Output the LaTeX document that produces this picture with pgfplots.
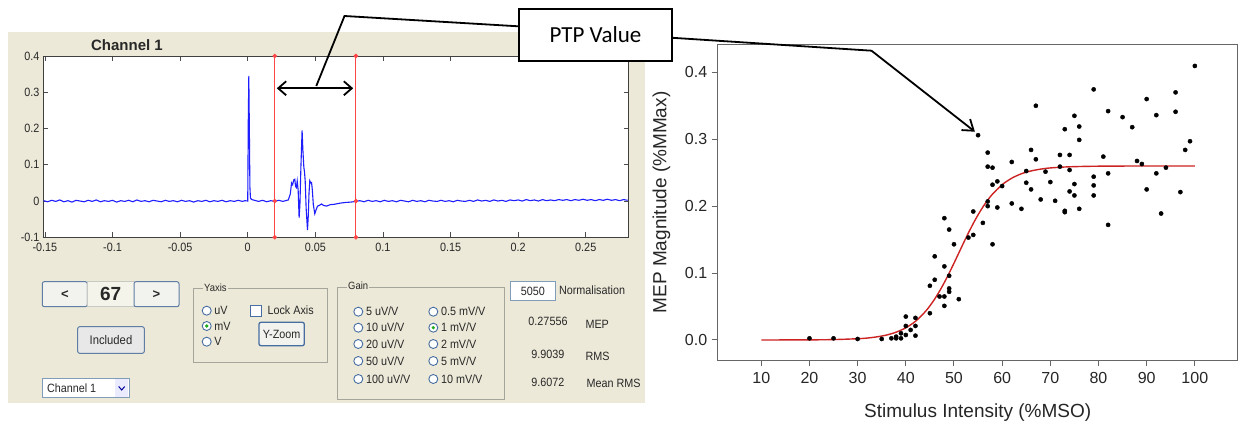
\documentclass[border=0pt]{standalone}
\usepackage{fontspec}
\setmainfont{Liberation Sans}
\newfontfamily\gui[FakeStretch=0.9]{Liberation Sans}
\newfontfamily\callout{Carlito}
\usepackage{pgfplots}
\pgfplotsset{compat=1.18}
\usetikzlibrary{arrows.meta}
\definecolor{guibg}{RGB}{236,233,216}
\definecolor{tracecol}{RGB}{30,30,255}
\definecolor{vline}{RGB}{255,70,70}
\definecolor{fitred}{RGB}{205,35,35}
\definecolor{btnborder}{RGB}{95,125,165}
\definecolor{btnfill}{RGB}{242,242,238}
\definecolor{grpline}{RGB}{165,165,155}
\definecolor{radioborder}{RGB}{70,110,160}
\definecolor{fieldborder}{RGB}{127,157,185}
\definecolor{guitext}{RGB}{40,40,40}
\definecolor{dotgreen}{RGB}{30,170,30}
\newcommand\gf[1]{\gui\fontsize{#1}{#1}\selectfont}
\newcommand\radio[3]{%
  \draw[radioborder, fill=white, line width=0.9pt] (#1pt,#2pt) circle (4.5pt);
  \node[anchor=west, inner sep=0pt, text=guitext, font=\gf{12}] at (#1pt+7.5pt,#2pt) {#3};}
\begin{document}
\begin{tikzpicture}
\path[use as bounding box] (0pt,0pt) rectangle (1239pt,423pt);
\fill[white] (0pt,0pt) rectangle (1239pt,423pt);
\fill[guibg] (8pt,20pt) rectangle (645pt,391pt);

% ---------- left EMG axis ----------
\begin{axis}[at={(42.9pt,185.7pt)}, anchor=south west, scale only axis,
  width=585.7pt, height=181.3pt,
  xmin=-0.1515, xmax=0.2817, ymin=-0.1, ymax=0.4,
  axis background/.style={fill=white},
  clip=false,
  xtick={-0.15,-0.1,-0.05,0,0.05,0.1,0.15,0.2,0.25},
  xticklabels={-0.15,-0.1,-0.05,0,0.05,0.1,0.15,0.2,0.25},
  ytick={-0.1,0,0.1,0.2,0.3,0.4},
  yticklabels={-0.1,0,0.1,0.2,0.3,0.4},
  tick align=inside, major tick length=5pt,
  tick style={black!70, line width=0.8pt},
  axis line style={black!75, line width=0.8pt},
  ticklabel style={font=\gf{12}, text=guitext},
  xticklabel style={yshift=-2pt},
]
\addplot[tracecol, line width=1.1pt] table {
x y
-0.151 0.001
-0.148 -0.002
-0.145 0.002
-0.142 -0.001
-0.139 0.003
-0.136 -0.002
-0.133 0.001
-0.130 -0.003
-0.127 0.002
-0.124 0.000
-0.121 -0.002
-0.118 0.002
-0.115 -0.001
-0.112 0.003
-0.109 -0.002
-0.106 0.001
-0.103 -0.001
-0.100 0.002
-0.097 -0.003
-0.094 0.001
-0.091 -0.001
-0.088 0.002
-0.085 -0.002
-0.082 0.003
-0.079 -0.001
-0.076 0.001
-0.073 -0.002
-0.070 0.002
-0.067 0.000
-0.064 -0.002
-0.061 0.002
-0.058 -0.001
-0.055 0.001
-0.052 -0.002
-0.049 0.002
-0.046 -0.001
-0.043 0.001
-0.040 -0.003
-0.037 0.001
-0.034 -0.001
-0.031 0.002
-0.028 -0.002
-0.025 0.001
-0.022 -0.001
-0.019 0.002
-0.016 -0.002
-0.013 0.001
-0.010 -0.001
-0.007 0.002
-0.004 -0.001
-0.002 0.001
0.000 0.000
0.0004 0.22
0.0008 0.345
0.0012 0.20
0.0016 0.04
0.002 0.008
0.003 0.004
0.005 0.002
0.008 -0.001
0.011 0.002
0.014 -0.002
0.017 0.001
0.020 -0.001
0.023 0.002
0.026 -0.001
0.028 0.001
0.030 0.003
0.0315 0.02
0.0324 0.05
0.0332 0.045
0.034 0.058
0.0348 0.06
0.0354 0.04
0.036 0.037
0.0366 0.055
0.0373 0.03
0.038 -0.046
0.0386 -0.01
0.0393 0.09
0.0402 0.195
0.0408 0.14
0.0415 0.093
0.042 0.08
0.0425 0.055
0.0432 -0.02
0.0442 -0.08
0.0448 -0.04
0.0453 0.02
0.0459 0.056
0.0466 0.05
0.0472 0.051
0.0478 0.03
0.0485 -0.01
0.0496 -0.035
0.0505 -0.025
0.0516 -0.014
0.053 -0.012
0.0546 -0.008
0.056 -0.012
0.0583 -0.014
0.061 -0.01
0.064 -0.009
0.068 -0.006
0.072 -0.004
0.076 -0.003
0.080 -0.001
0.083 0.001
0.086 -0.002
0.089 0.002
0.092 -0.001
0.095 0.001
0.098 -0.002
0.101 0.002
0.104 -0.001
0.107 0.001
0.110 -0.002
0.113 0.002
0.116 0.000
0.119 -0.002
0.122 0.002
0.125 -0.001
0.128 0.001
0.131 -0.002
0.134 0.002
0.137 0.000
0.140 -0.001
0.143 0.002
0.146 -0.001
0.149 0.001
0.152 -0.002
0.155 0.002
0.158 0.000
0.161 -0.001
0.164 0.002
0.167 -0.001
0.170 0.003
0.173 0.000
0.176 0.002
0.179 -0.001
0.182 0.003
0.185 0.000
0.188 0.002
0.191 -0.001
0.194 0.003
0.197 0.001
0.200 0.003
0.203 0.000
0.206 0.004
0.209 0.001
0.212 0.003
0.215 0.000
0.218 0.004
0.221 0.001
0.224 0.003
0.227 0.001
0.230 0.004
0.233 0.002
0.236 0.004
0.239 0.001
0.242 0.004
0.245 0.002
0.248 0.005
0.251 0.002
0.254 0.004
0.257 0.001
0.260 0.004
0.263 0.002
0.266 0.005
0.269 0.002
0.272 0.004
0.275 0.001
0.278 0.004
0.281 0.002
};
\addplot[vline, line width=1.0pt, mark=*, mark size=1.7pt, mark options={fill=vline, draw=vline}]
  coordinates {(0.02,-0.1) (0.02,0) (0.02,0.4)};
\addplot[vline, line width=1.0pt, mark=*, mark size=1.7pt, mark options={fill=vline, draw=vline}]
  coordinates {(0.08,-0.1) (0.08,0) (0.08,0.4)};
\draw[line width=1.8pt, {Straight Barb[length=8pt,width=14pt]}-{Straight Barb[length=8pt,width=14pt]}]
  (axis cs:0.0215,0.311) -- (axis cs:0.078,0.311);
\end{axis}
\node[text=guitext, font=\bfseries\fontsize{15}{15}\selectfont] at (127pt,378pt) {Channel 1};

% ---------- GUI widgets ----------
\draw[btnborder, fill=btnfill, rounded corners=2pt, line width=1pt] (42.3pt,116.3pt) rectangle (87.3pt,141.3pt);
\node[text=guitext, font=\bfseries\fontsize{13}{13}\selectfont] at (64.8pt,128.8pt) {<};
\draw[grpline!60, fill=guibg!50!white, line width=0.8pt] (87.3pt,116.3pt) rectangle (134pt,141.3pt);
\node[text=guitext, font=\bfseries\fontsize{19}{19}\selectfont] at (110.7pt,129pt) {67};
\draw[btnborder, fill=btnfill, rounded corners=2pt, line width=1pt] (134pt,116.3pt) rectangle (179pt,141.3pt);
\node[text=guitext, font=\bfseries\fontsize{13}{13}\selectfont] at (156.5pt,128.8pt) {>};
\draw[btnborder, fill=black!9, rounded corners=2pt, line width=1pt] (77.7pt,69.7pt) rectangle (144.3pt,96.3pt);
\node[text=guitext, font=\gf{12.5}] at (111pt,83pt) {Included};
\draw[fieldborder, fill=white, line width=0.8pt] (42.3pt,25.3pt) rectangle (129pt,44.7pt);
\fill[blue!8] (115pt,26pt) rectangle (128.3pt,44pt);
\draw[blue!60!black, line width=1pt] (118.7pt,36.5pt) -- (121.7pt,33pt) -- (124.7pt,36.5pt);
\node[anchor=west, text=guitext, font=\gf{12}] at (43.5pt,35pt) {Channel 1};

% Yaxis group
\draw[grpline, line width=0.8pt] (193.3pt,61pt) rectangle (327.3pt,135pt);
\node[anchor=west, fill=guibg, inner sep=1pt, text=guitext, font=\gf{10.5}] at (203pt,135.5pt) {Yaxis};
\radio{206.7}{112.3}{uV}
\radio{206.7}{97}{mV}
\radio{206.7}{81.3}{V}
\fill[dotgreen] (206.7pt,97pt) circle (1.8pt);
\draw[radioborder, fill=white, line width=0.9pt] (250.7pt,107pt) rectangle (261.7pt,118pt);
\node[anchor=west, text=guitext, font=\gf{12}] at (264pt,112.5pt) {Lock Axis};
\draw[radioborder, fill=btnfill, rounded corners=2pt, line width=1.3pt] (259pt,77.3pt) rectangle (304.3pt,100.7pt);
\node[text=guitext, font=\gf{12}] at (281.7pt,89pt) {Y-Zoom};

% Gain group
\draw[grpline, line width=0.8pt] (337pt,24pt) rectangle (504pt,136pt);
\node[anchor=west, fill=guibg, inner sep=1pt, text=guitext, font=\gf{10.5}] at (347pt,137pt) {Gain};
\radio{358.3}{111.3}{5 uV/V}
\radio{358.3}{95.3}{10 uV/V}
\radio{358.3}{79}{20 uV/V}
\radio{358.3}{62}{50 uV/V}
\radio{358.3}{44}{100 uV/V}
\radio{433.3}{111.3}{0.5 mV/V}
\radio{433.3}{95.3}{1 mV/V}
\radio{433.3}{79}{2 mV/V}
\radio{433.3}{62}{5 mV/V}
\radio{433.3}{44}{10 mV/V}
\fill[dotgreen] (433.3pt,95.3pt) circle (1.8pt);

% values
\draw[fieldborder, fill=white, line width=0.8pt] (510.7pt,123pt) rectangle (555pt,141.3pt);
\node[text=guitext, font=\gf{12}] at (532.8pt,131.5pt) {5050};
\node[anchor=west, text=guitext, font=\gf{12}] at (555.5pt,133pt) {Normalisation};
\node[text=guitext, font=\gf{12}] at (548pt,101.3pt) {0.27556};
\node[anchor=west, text=guitext, font=\gf{12}] at (582pt,99pt) {MEP};
\node[text=guitext, font=\gf{12}] at (547.8pt,68.7pt) {9.9039};
\node[anchor=west, text=guitext, font=\gf{12}] at (582pt,66.3pt) {RMS};
\node[text=guitext, font=\gf{12}] at (547.8pt,40.7pt) {9.6072};
\node[anchor=west, text=guitext, font=\gf{12}] at (583pt,39.3pt) {Mean RMS};

% ---------- right recruitment curve ----------
\begin{axis}[at={(717.7pt,63pt)}, anchor=south west, scale only axis,
  width=520pt, height=315pt,
  xmin=0.95, xmax=108.9, ymin=-0.0299, ymax=0.4408,
  axis line style={black!60, line width=1pt},
  xtick={10,20,30,40,50,60,70,80,90,100},
  ytick={0,0.1,0.2,0.3,0.4},
  yticklabels={0.0,0.1,0.2,0.3,0.4},
  /pgf/number format/assume math mode=true,
  xtick pos=bottom, ytick pos=left,
  tick align=outside, major tick length=6pt,
  tick style={black!60, line width=1pt},
  ticklabel style={font=\fontsize{16}{16}\selectfont, text=black!85},
  xticklabel style={yshift=-3pt},
  yticklabel style={xshift=-1pt},
  xlabel={Stimulus Intensity (\%MSO)},
  ylabel={MEP Magnitude (\%MMax)},
  label style={font=\fontsize{19}{19}\selectfont, text=black!85},
  xlabel style={at={(axis description cs:0.5,-0.168)}, anchor=center},
  ylabel style={at={(axis description cs:-0.108,0.5)}, anchor=center},
]
\addplot[only marks, mark=*, mark size=2.1pt, black] table {
x y
20 0.0025
25 0.0025
30 0.0015
35 0.0015
37 0.0025
38 0.005
38 0.0025
39 0.01
39 0.0025
40 0.035
40 0.021
40 0.0075
41 0.015
42 0.033
42 0.021
42 0.0065
45 0.04
45 0.081
46 0.125
46 0.09
47 0.065
48 0.182
48 0.11
48 0.065
48 0.051
49 0.165
49 0.096
49 0.077
49 0.072
50 0.143
51 0.061
53 0.153
54 0.157
54 0.192
55 0.306
56 0.175
57 0.28
57 0.259
57 0.207
57 0.2
58 0.2575
58 0.232
58 0.143
59 0.237
59 0.198
60 0.23
62 0.266
62 0.204
64 0.196
65 0.2525
65 0.235
66 0.284
66 0.225
67 0.35
67 0.27
68 0.21
69 0.2515
70 0.236
71 0.208
72 0.2765
72 0.259
73 0.315
73 0.193
73 0.191
74 0.2765
74 0.254
74 0.222
75 0.335
75 0.233
75 0.216
76 0.319
76 0.299
76 0.196
79 0.3745
79 0.244
79 0.231
79 0.216
81 0.274
82 0.342
82 0.249
82 0.172
85 0.333
87 0.318
88 0.2675
89 0.263
90 0.36
90 0.225
92 0.336
92 0.249
93 0.189
94 0.2575
96 0.37
96 0.341
97 0.221
98 0.284
99 0.297
100 0.4095
};
\addplot[fitred, line width=1.4pt, smooth] table {
x y
10 0.0000
20 0.0002
25 0.0006
30 0.0019
32 0.0029
34 0.0047
36 0.0074
38 0.0117
40 0.0182
42 0.0279
44 0.0420
45 0.0510
46 0.0613
47 0.0730
48 0.0859
49 0.1000
50 0.1148
51 0.1300
52 0.1453
53 0.1600
54 0.1741
55 0.1870
56 0.1987
57 0.2091
58 0.2180
60 0.2321
62 0.2418
64 0.2484
66 0.2526
68 0.2553
70 0.2571
74 0.2588
80 0.2597
90 0.2600
100 0.2600
};
\end{axis}

% ---------- callout ----------
\draw[line width=1.8pt] (316.3pt,337pt) -- (344.5pt,407pt) -- (530pt,396pt);
\draw[line width=1.8pt, -{Straight Barb[length=10pt,width=14pt]}] (660pt,386pt) -- (871.5pt,372.3pt) -- (974.9pt,291.3pt);
\node[draw, line width=1.8pt, fill=white, minimum width=153pt, minimum height=52pt, inner sep=0pt,
  font=\callout\fontsize{23}{23}\selectfont] at (595.5pt,388pt) {PTP Value};
\end{tikzpicture}
\end{document}
